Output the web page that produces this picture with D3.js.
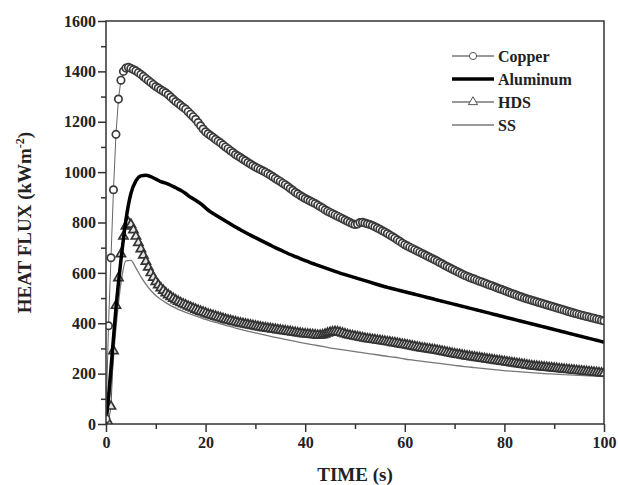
<!DOCTYPE html>
<html>
<head>
<meta charset="utf-8">
<script src="https://cdn.jsdelivr.net/npm/d3@7"></script>
<style>
  body { margin: 0; background: #fff; }
  text { font-family: "Liberation Serif", "DejaVu Serif", serif; font-weight: bold; fill: #222; }
</style>
</head>
<body>
<script>
// heat flux curves (kW/m2)
// copper and HDS : one marker every 0.5 s
const copperFlux = [
  20, 390, 660, 930, 1150, 1290, 1365, 1400, 1413, 1416,
  1412, 1407, 1402, 1395, 1388, 1380, 1372, 1364, 1356, 1348,
  1340, 1334, 1327, 1321, 1315, 1307, 1298, 1289, 1280, 1273,
  1265, 1257, 1250, 1240, 1230, 1220, 1210, 1197, 1184, 1171,
  1160, 1152, 1145, 1138, 1130, 1123, 1116, 1108, 1100, 1093,
  1085, 1078, 1070, 1064, 1058, 1051, 1045, 1038, 1032, 1026,
  1020, 1015, 1010, 1005, 1000, 994, 988, 982, 975, 969,
  963, 956, 950, 943, 935, 928, 920, 914, 907, 901,
  895, 890, 885, 880, 875, 869, 863, 857, 850, 845,
  840, 835, 830, 825, 820, 815, 810, 805, 800, 795,
  792, 794, 800, 801, 798, 795, 792, 788, 783, 778,
  773, 767, 762, 756, 750, 744, 738, 731, 725, 718,
  712, 707, 702, 697, 692, 687, 682, 677, 672, 667,
  662, 657, 652, 647, 641, 636, 630, 625, 620, 615,
  610, 605, 600, 595, 590, 586, 582, 578, 575, 571,
  567, 564, 560, 556, 552, 549, 545, 541, 537, 534,
  530, 526, 522, 518, 515, 511, 507, 504, 500, 497,
  494, 491, 488, 485, 482, 479, 476, 473, 470, 467,
  464, 461, 458, 455, 452, 449, 446, 443, 440, 438,
  435, 432, 430, 427, 425, 422, 420, 417, 415, 412,
  410
]
const hdsFlux = [
  0, 5, 70, 290, 470, 580, 675, 745, 785, 800,
  792, 770, 745, 720, 695, 670, 645, 622, 600, 582,
  565, 552, 540, 530, 520, 512, 505, 498, 492, 486,
  481, 476, 472, 467, 463, 459, 455, 451, 447, 444,
  440, 436, 433, 430, 427, 424, 421, 418, 415, 412,
  410, 407, 405, 402, 400, 398, 396, 394, 392, 390,
  388, 386, 384, 382, 381, 379, 378, 376, 375, 373,
  372, 370, 369, 367, 366, 364, 363, 361, 360, 358,
  357, 356, 355, 354, 353, 352, 352, 353, 356, 360,
  363, 365, 366, 365, 363, 360, 357, 354, 352, 350,
  348, 346, 344, 342, 340, 338, 337, 335, 334, 332,
  331, 329, 328, 326, 325, 323, 322, 320, 318, 316,
  315, 313, 311, 309, 307, 305, 303, 301, 300, 298,
  297, 295, 294, 292, 290, 288, 286, 284, 282, 280,
  278, 276, 275, 273, 271, 269, 268, 266, 265, 263,
  262, 260, 259, 257, 256, 254, 253, 251, 250, 248,
  247, 245, 244, 242, 241, 239, 238, 236, 235, 233,
  232, 230, 229, 228, 227, 226, 225, 224, 223, 222,
  221, 220, 219, 218, 217, 216, 215, 214, 213, 212,
  211, 210, 209, 208, 207, 206, 205, 204, 203, 202,
  201
]
// aluminum : every second
const aluFlux = [
  0, 220, 460, 650, 810, 915, 965, 985, 988, 982,
  972, 962, 956, 948, 938, 928, 915, 900, 888, 875,
  858, 842, 830, 818, 806, 794, 782, 771, 760, 750,
  740, 730, 720, 710, 700, 691, 682, 673, 665, 657,
  649, 641, 634, 627, 620, 613, 606, 599, 593, 587,
  581, 575, 569, 563, 557, 551, 545, 540, 535, 530,
  525, 520, 515, 510, 505, 500, 495, 490, 485, 480,
  475, 470, 465, 460, 455, 450, 445, 440, 435, 430,
  425, 420, 415, 410, 405, 400, 395, 390, 385, 380,
  375, 370, 365, 360, 355, 350, 345, 340, 335, 330,
  324
]
// stainless steel
const ssTime = [0, 1, 2, 3, 4, 5, 6, 7, 8, 9, 10, 11, 12, 13, 14, 15, 16, 17, 18, 19, 20,
  22, 24, 26, 28, 30, 32, 34, 36, 38, 40, 42, 44, 46, 48, 50, 52, 54, 56, 58, 60,
  62, 64, 66, 68, 70, 72, 74, 76, 78, 80, 82, 84, 86, 88, 90, 92, 94, 96, 98, 100]
const ssFlux = [0, 150, 380, 560, 648, 650, 620, 585, 555, 530, 510, 495, 482, 470, 460, 451, 443, 436, 429, 422, 415,
  403, 392, 381, 371, 362, 353, 344, 336, 328, 320, 313, 306, 299, 293, 287, 281, 276, 270, 265, 258,
  253, 248, 243, 238, 233, 228, 224, 220, 216, 212, 209, 206, 203, 200, 198, 196, 194, 192, 190, 188]

const xTicks = [0, 20, 40, 60, 80, 100]
const yTicks = [0, 200, 400, 600, 800, 1000, 1200, 1400, 1600]
const legendNames = ['Copper', 'Aluminum', 'HDS', 'SS']

const markTime = d3.range(0, 100.25, 0.5)
const aluTime = d3.range(0, 100.5, 1)

const W = 618, H = 485
const m = { left: 106, right: 14, top: 21, bottom: 61 }
const iw = W - m.left - m.right
const ih = H - m.top - m.bottom

const svg = d3.select('body').append('svg')
  .attr('width', W)
  .attr('height', H)

const x = d3.scaleLinear().domain([0, 100]).range([0, iw])
const y = d3.scaleLinear().domain([0, 1600]).range([ih, 0])

const g = svg.append('g').attr('transform', `translate(${m.left},${m.top})`)

g.append('clipPath').attr('id', 'clip')
  .append('rect').attr('width', iw).attr('height', ih)

// minor ticks
g.append('g').attr('transform', `translate(0,${ih})`)
  .call(d3.axisBottom(x).tickValues([10, 30, 50, 70, 90]).tickSize(5).tickFormat(''))
g.append('g')
  .call(d3.axisLeft(y).tickValues(d3.range(100, 1600, 200)).tickSize(5).tickFormat(''))

// major ticks
g.append('g').attr('transform', `translate(0,${ih})`)
  .call(d3.axisBottom(x).tickValues(xTicks).tickSize(8).tickPadding(5).tickFormat(d3.format('d')))
g.append('g')
  .call(d3.axisLeft(y).tickValues(yTicks).tickSize(8).tickPadding(2).tickFormat(d3.format('d')))

g.selectAll('.domain').remove()
g.selectAll('.tick line').attr('stroke', '#333').attr('stroke-width', 1.5)
g.selectAll('.tick text').style('font-size', '16px').attr('fill', '#222')

const plot = g.append('g').attr('clip-path', 'url(#clip)')

const line = d3.line().x(d => x(d[0])).y(d => y(d[1]))
const smooth = d3.line().x(d => x(d[0])).y(d => y(d[1])).curve(d3.curveMonotoneX)

const copper = markTime.map((t, i) => [t, copperFlux[i]])
const hds = markTime.map((t, i) => [t, hdsFlux[i]])
const alu = aluTime.map((t, i) => [t, aluFlux[i]])
const ss = ssTime.map((t, i) => [t, ssFlux[i]])

// SS
plot.append('path').datum(ss)
  .attr('d', smooth).attr('fill', 'none')
  .attr('stroke', '#777').attr('stroke-width', 1.3)

// HDS
plot.append('path').datum(hds)
  .attr('d', line).attr('fill', 'none')
  .attr('stroke', '#555').attr('stroke-width', 1)
const tri = d3.symbol().type(d3.symbolTriangle).size(36)
plot.selectAll('.hds').data(hds).enter().append('path')
  .attr('class', 'hds')
  .attr('transform', d => `translate(${x(d[0])},${y(d[1])})`)
  .attr('d', tri)
  .attr('fill', '#e4e4e4').attr('stroke', '#333').attr('stroke-width', 1.7)

// aluminum
plot.append('path').datum(alu)
  .attr('d', smooth).attr('fill', 'none')
  .attr('stroke', '#000').attr('stroke-width', 3.5)

// copper
plot.append('path').datum(copper)
  .attr('d', line).attr('fill', 'none')
  .attr('stroke', '#666').attr('stroke-width', 1)
plot.selectAll('.cu').data(copper).enter().append('circle')
  .attr('class', 'cu')
  .attr('cx', d => x(d[0]))
  .attr('cy', d => y(d[1]))
  .attr('r', 3.7)
  .attr('fill', '#fff').attr('stroke', '#3a3a3a').attr('stroke-width', 1.7)

// frame
g.append('rect').attr('width', iw).attr('height', ih)
  .attr('fill', 'none').attr('stroke', '#333').attr('stroke-width', 1.5)

// legend
const lg = svg.append('g').attr('transform', 'translate(452,56)')
legendNames.forEach((name, i) => {
  const row = lg.append('g').attr('transform', `translate(0,${i * 23})`)
  row.append('line').attr('x1', 0).attr('x2', 42)
    .attr('stroke', i == 1 ? '#000' : '#777')
    .attr('stroke-width', i == 1 ? 3.5 : 1.3)
  if (i == 0) {
    row.append('circle').attr('cx', 21).attr('r', 3.6)
      .attr('fill', '#fff').attr('stroke', '#555')
  }
  if (i == 2) {
    row.append('path').attr('transform', 'translate(21,0)').attr('d', tri)
      .attr('fill', '#fff').attr('stroke', '#555')
  }
  row.append('text').attr('x', 46).attr('dy', '0.35em')
    .style('font-size', '16px').text(name)
})

// axis titles
svg.append('text')
  .attr('x', m.left + iw / 2).attr('y', 481)
  .attr('text-anchor', 'middle')
  .style('font-size', '19px')
  .text('TIME (s)')

const yt = svg.append('text')
  .attr('transform', `translate(31,${m.top + ih / 2}) rotate(-90)`)
  .attr('text-anchor', 'middle')
  .style('font-size', '19px')
yt.append('tspan').text('HEAT FLUX (kWm')
yt.append('tspan').attr('dy', -7).style('font-size', '12px').text('-2')
yt.append('tspan').attr('dy', 7).text(')')
</script>
</body>
</html>
